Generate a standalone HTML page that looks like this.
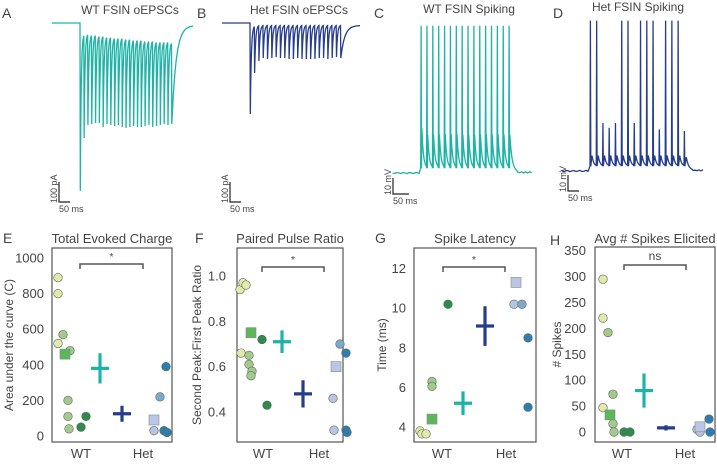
<!DOCTYPE html>
<html><head><meta charset="utf-8"><style>
body{margin:0;background:#fff}
svg text{font-family:"Liberation Sans",sans-serif;fill:#444}
</style></head><body>
<svg id="fig" width="717" height="461" viewBox="0 0 717 461" xmlns="http://www.w3.org/2000/svg">
<g id="topgrp"></g><g id="botgrp"></g>
</svg>
<script>
// ---------- data ----------
const wtEpscTroughs=[-840,-575,-510,-505,-500,-500,-520,-505,-510,-515,-510,-520,-525,-520,-515,-520,-520,-515,-510,-520,-515,-510,-505,-510,-505];
const wtEpscPeaks=[-50,-50,-55,-55,-60,-60,-65,-65,-70,-70,-70,-75,-75,-80,-80,-80,-85,-85,-85,-90,-90,-90,-90,-95,-95];
const hetEpscTroughs=[-455,-250,-190,-175,-180,-175,-170,-175,-175,-180,-180,-175,-180,-180,-180,-180,-175,-175,-180,-175,-170,-175];
const hetEpscPeaks=[-10,-10,-10,-10,-10,-10,-10,-10,-10,-10,-10,-10,-10,-10,-10,-10,-10,-10,-10,-10,-10,-10];
const wtSpikePeaks=[92,92,92,92,92,92,92,92,92,92,92,92,92,92,92,92];
const wtSpikeBumps=[28,24,24,24,24,24,24,24,24,24,24,24,24,24,24,24];
const hetSpikePeaks=[94,94,30,27,30,94,94,30,94,94,94,26,94,94,94,25];
const hetSpikeBumps=[0,0,0,0,0,0,0,0,0,0,0,0,0,0,0,0];

const catLabels=["WT","Het"];
const eTicks=[0,200,400,600,800,1000];
const eWT=[890,800,570,520,480,200,110,40,50,110];
const eWTsq=[460];
const eHet=[30,220,390,30,20];
const eHetSq=[90];
const eMean=[380,125];const eErr=[85,45];
const fTicks=[0.4,0.6,0.8,1.0];
const fWT=[0.94,0.97,0.96,0.66,0.65,0.61,0.58,0.56,0.72,0.43];
const fWTsq=[0.75];
const fHet=[0.46,0.32,0.70,0.66,0.32,0.31];
const fHetSq=[0.60];
const fMean=[0.71,0.48];const fErr=[0.05,0.06];
const gTicks=[4,6,8,10,12];
const gWT=[3.8,3.65,3.65,6.3,6.05,10.2];
const gWTsq=[4.4];
const gHet=[10.2,10.2,8.5,5.0];
const gHetSq=[11.3];
const gMean=[5.2,9.1];const gErr=[0.6,1.0];
const hTicks=[0,50,100,150,200,250,300,350];
const hWT=[295,220,192,47,73,16,0,0,0];
const hWTsq=[33];
const hHet=[5,0,25,0];
const hHetSq=[10];
const hMean=[80,8];const hErr=[33,5];

// ---------- helpers ----------
const NS="http://www.w3.org/2000/svg";
function mk(tag,attrs,parent,txt){const e=document.createElementNS(NS,tag);for(const k in attrs)e.setAttribute(k,attrs[k]);if(txt!==undefined)e.textContent=txt;(parent||document.getElementById('fig')).appendChild(e);return e;}
const topG=document.getElementById('topgrp'),botG=document.getElementById('botgrp');
const TEAL="#1db3a6",NAVY="#263d8c";

function text(x,y,s,size,anchor,parent,name,rot){
  const a={x:x,y:y,'font-size':size,'text-anchor':anchor||'start'};
  if(rot)a.transform=`rotate(-90 ${x} ${y})`;
  const t=mk('text',a,parent,s);
  
  
  return t;
}

function epsc(troughs,peaks,x0,xStart,x1,xEnd,baseY,pxPer100,color,name){
  const yv=v=>baseY-v/100*pxPer100;
  const n=troughs.length,dx=(x1-xStart)/(n-1);
  let d=`M${x0},${baseY} L${xStart},${baseY}`;
  for(let i=0;i<n;i++){
    const xs=xStart+i*dx;d+=` L${xs+0.3},${yv(troughs[i])}`;
    const last=i===n-1;
    const span=last?(xEnd-x1):dx;
    const target=last?-12:peaks[i];
    const K=last?14:16;
    for(let k=1;k<=K;k++){const f=k/K;const v=target+(troughs[i]-target)*Math.exp(-f*(last?5:4));d+=` L${(xs+0.3+f*(span-0.3)).toFixed(2)},${yv(v).toFixed(2)}`;}
  }
  const p=mk('path',{d:d,fill:'none',stroke:color,'stroke-width':1.3},topG);
  
  
}
function spikes(peaks,bumps,x0,xStart,x1,xEnd,baseY,pxPer10,color,name){
  const yv=v=>baseY-v/10*pxPer10;
  const n=peaks.length,dx=(x1-xStart)/(n-1);
  let d=`M${x0},${yv(0)}`;
  for(let x=x0;x<xStart;x+=2)d+=` L${x},${yv(0.4*Math.sin(x))}`;
  for(let i=0;i<n;i++){
    const xs=xStart+i*dx;
    const last=i===n-1;
    d+=` L${xs},${yv(3)} L${xs+0.4},${yv(peaks[i])} L${xs+0.8},${yv(3)}`;
    if(bumps[i]>0)d+=` L${xs+1.1},${yv(bumps[i])}`;
    const span=last?8:dx;
    const hi=bumps[i]>0?bumps[i]:14;
    const lo=last?0.5:3;
    for(let k=1;k<=6;k++){const f=k/6;const v=lo+(hi-lo)*Math.exp(-f*3);d+=` L${(xs+1.1+f*(span-1.2)).toFixed(2)},${yv(v).toFixed(2)}`;}
  }
  for(let x=x1+9;x<=xEnd;x+=2)d+=` L${x},${yv(0.4+0.4*Math.sin(x*1.7))}`;
  const p=mk('path',{d:d,fill:'none',stroke:color,'stroke-width':1.3},topG);
  
  
}
function scalebar(x,y,h,w,l1,l2,name){
  const p=mk('path',{d:`M${x},${y-h} L${x},${y} L${x+w},${y}`,fill:'none',stroke:'#222','stroke-width':1.2},topG);
  
  
  text(x-2,y+1,l1,9,'start',topG,name+'-v-label',true);
  text(x,y+10,l2,9,'start',topG,name+'-h-label');
}

text(2,18,"A",14,'start',topG,'panel-a-letter');
text(130,14,"WT FSIN oEPSCs",12,'middle',topG,'panel-a-title');
epsc(wtEpscTroughs,wtEpscPeaks,52,80,171.5,193,23,20,TEAL,'wt-oepsc-trace');
scalebar(59,202,20,11,"100 pA","50 ms",'panel-a-scalebar');

text(197,18,"B",14,'start',topG,'panel-b-letter');
text(299,14,"Het FSIN oEPSCs",12,'middle',topG,'panel-b-title');
epsc(hetEpscTroughs,hetEpscPeaks,222,250,340.5,360,23,20,NAVY,'het-oepsc-trace');
scalebar(230,202,20,11,"100 pA","50 ms",'panel-b-scalebar');

text(374,18,"C",14,'start',topG,'panel-c-letter');
text(469,13,"WT FSIN Spiking",12,'middle',topG,'panel-c-title');
spikes(wtSpikePeaks,wtSpikeBumps,393,420.7,508.7,533,173,16,TEAL,'wt-spiking-trace');
scalebar(393,194,16,16,"10 mV","50 ms",'panel-c-scalebar');

text(553,18,"D",14,'start',topG,'panel-d-letter');
text(638,11,"Het FSIN Spiking",12,'middle',topG,'panel-d-title');
spikes(hetSpikePeaks,hetSpikeBumps,562,590,684,703,171,16,NAVY,'het-spiking-trace');
scalebar(568,191,16,11,"10 mV","50 ms",'panel-d-scalebar');

const C={yl:"#e3e9ac",gm:"#a3c98e",sq:"#5bb85a",dg:"#2f8a4e",hl:"#b6c5e3",hm:"#7ea8cc",hd:"#2e7db1",hsq:"#b9c6e6"};
function panel(o){
  const g=mk('g',{},botG);
  
  
  const y=v=>o.y0-(v-o.v0)*o.py;
  const fr=mk('rect',{x:o.bx0,y:o.by0,width:o.bx1-o.bx0,height:o.by1-o.by0,fill:'none',stroke:'#555','stroke-width':1.2},g);
  
  
  o.ticks.forEach(t=>text(o.tx,y(t)+4.5,o.fmt?o.fmt(t):String(t),13,'end',g,o.id+'-y-tick-'+t));
  text(o.catX[0],o.by1+16,catLabels[0],13,'middle',g,o.id+'-x-label-wt');
  text(o.catX[1],o.by1+16,catLabels[1],13,'middle',g,o.id+'-x-label-het');
  text(o.letX,o.letY,o.letter,14,'start',g,o.id+'-letter');
  text((o.bx0+o.bx1)/2,243,o.title,13,'middle',g,o.id+'-title');
  text(o.ylx,(o.by0+o.by1)/2,o.ylabel,12,'middle',g,o.id+'-y-axis-title',true);
  const br=mk('path',{d:`M${o.br[0]},${o.br[2]+5} L${o.br[0]},${o.br[2]} L${o.br[1]},${o.br[2]} L${o.br[1]},${o.br[2]+5}`,fill:'none',stroke:'#555','stroke-width':1.5},g);
  
  
  text((o.br[0]+o.br[1])/2,o.br[2]-(o.sig==='*'?4:5),o.sig,o.sig==='*'?10:12,'middle',g,o.id+'-significance-label');
  function dots(vals,xs,cols,sq,grp){
    vals.forEach((v,i)=>{
      let e;
      if(sq) e=mk('rect',{x:xs[i]-5,y:y(v)-5,width:10,height:10,fill:cols[i],stroke:'#888','stroke-width':0.6},g);
      else e=mk('circle',{cx:xs[i],cy:y(v),r:4.3,fill:cols[i],stroke:'#5a6a5a','stroke-width':0.6},g);
      
      
    });
  }
  dots(o.wt,o.wtX,o.wtC,false,'wt');dots(o.wtSq,o.wtSqX,[C.sq],true,'wt-mean-square');
  dots(o.het,o.hetX,o.hetC,false,'het');dots(o.hetSq,o.hetSqX,[C.hsq],true,'het-mean-square');
  [0,1].forEach(i=>{
    const cx=o.meanX[i],col=i?NAVY:TEAL;
    const e=mk('path',{d:`M${cx},${y(o.mean[i]+o.err[i])} L${cx},${y(o.mean[i]-o.err[i])} M${cx-9},${y(o.mean[i])} L${cx+9},${y(o.mean[i])}`,stroke:col,'stroke-width':3.2,fill:'none'},g);
    
    
  });
}
panel({id:'total-evoked-charge',letter:'E',letX:3,letY:243,title:'Total Evoked Charge',ylabel:'Area under the curve (C)',ylx:13,
 bx0:52,bx1:172,by0:248,by1:442,v0:0,y0:436,py:0.178,ticks:eTicks,tx:44,catX:[81,143],br:[80,143,264],sig:'*',
 wt:eWT,wtX:[58,58,63,58,70,68,68,69,81,86],wtC:[C.yl,C.yl,C.gm,C.yl,C.gm,C.gm,C.gm,C.gm,C.dg,C.dg],
 wtSq:eWTsq,wtSqX:[65],het:eHet,hetX:[154,160,166,164,167],hetC:[C.hl,C.hm,C.hd,C.hd,C.hd],hetSq:eHetSq,hetSqX:[154],
 mean:eMean,err:eErr,meanX:[100,122]});
panel({id:'paired-pulse-ratio',letter:'F',letX:195,letY:243,title:'Paired Pulse Ratio',ylabel:'Second Peak:First Peak Ratio',ylx:201,
 bx0:237,bx1:343,by0:248,by1:442,v0:0.4,y0:412,py:226.7,ticks:fTicks,tx:226,fmt:t=>t.toFixed(1),catX:[263,319],br:[262,324,267],sig:'*',
 wt:fWT,wtX:[240,243,246,241,249,249,252,251,262,267],wtC:[C.yl,C.yl,C.yl,C.yl,C.gm,C.gm,C.gm,C.gm,C.dg,C.dg],
 wtSq:fWTsq,wtSqX:[251],het:fHet,hetX:[333,334,340,346,346,347],hetC:[C.hl,C.hl,C.hm,C.hd,C.hd,C.hd],hetSq:fHetSq,hetSqX:[336],
 mean:fMean,err:fErr,meanX:[282,303]});
panel({id:'spike-latency',letter:'G',letX:375,letY:243,title:'Spike Latency',ylabel:'Time (ms)',ylx:386,
 bx0:414,bx1:536,by0:248,by1:442,v0:4,y0:427,py:19.8,ticks:gTicks,tx:406,catX:[442,506],br:[443,505,267],sig:'*',
 wt:gWT,wtX:[420,422,426,432,432,448],wtC:[C.yl,C.yl,C.yl,C.gm,C.gm,C.dg],
 wtSq:gWTsq,wtSqX:[432],het:gHet,hetX:[514,522,528,528],hetC:[C.hl,C.hm,C.hd,C.hd],hetSq:gHetSq,hetSqX:[516],
 mean:gMean,err:gErr,meanX:[463,485]});
panel({id:'avg-spikes-elicited',letter:'H',letX:550,letY:245,title:'Avg # Spikes Elicited',ylabel:'# Spikes',ylx:561,
 bx0:595,bx1:715,by0:247,by1:442,v0:0,y0:432,py:0.518,ticks:hTicks,tx:586,catX:[622,685],br:[624,686,265],sig:'ns',
 wt:hWT,wtX:[603,603,608,603,613,613,614,624,630],wtC:[C.yl,C.yl,C.gm,C.yl,C.gm,C.gm,C.gm,C.dg,C.dg],
 wtSq:hWTsq,wtSqX:[610],het:hHet,hetX:[697,700,709,710],hetC:[C.hl,C.hl,C.hd,C.hd],hetSq:hHetSq,hetSqX:[700],
 mean:hMean,err:hErr,meanX:[644,666]});
</script>
</body></html>
